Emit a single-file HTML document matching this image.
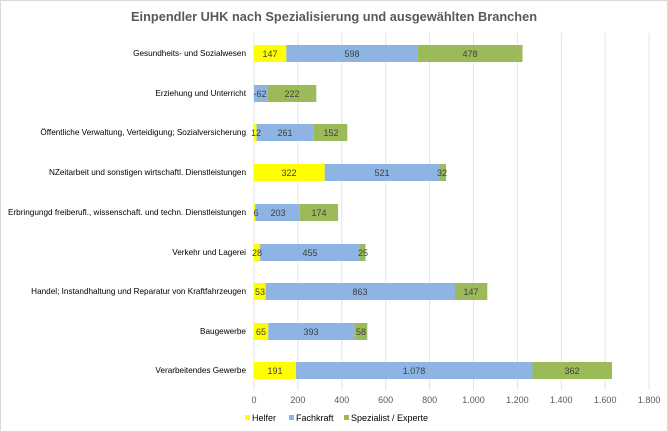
<!DOCTYPE html>
<html><head><meta charset="utf-8"><style>
html,body{margin:0;padding:0;background:#fff}
svg{display:block}
text{font-family:"Liberation Sans",Arial,sans-serif}
</style></head><body>
<svg width="668" height="432" xmlns="http://www.w3.org/2000/svg">
<rect x="0.5" y="0.5" width="667" height="431" fill="#fff" stroke="#d9d9d9"/>
<text x="334" y="21" text-anchor="middle" font-size="12.8" font-weight="bold" fill="#595959">Einpendler UHK nach Spezialisierung und ausgewählten Branchen</text>
<g stroke="#e3e3e3" stroke-width="1">
<line x1="254" y1="33" x2="254" y2="390"/>
<line x1="297.9" y1="33" x2="297.9" y2="390"/>
<line x1="341.8" y1="33" x2="341.8" y2="390"/>
<line x1="385.7" y1="33" x2="385.7" y2="390"/>
<line x1="429.6" y1="33" x2="429.6" y2="390"/>
<line x1="473.5" y1="33" x2="473.5" y2="390"/>
<line x1="517.4" y1="33" x2="517.4" y2="390"/>
<line x1="561.3" y1="33" x2="561.3" y2="390"/>
<line x1="605.2" y1="33" x2="605.2" y2="390"/>
<line x1="649.1" y1="33" x2="649.1" y2="390"/>
</g>
<g font-size="9" fill="#595959" text-anchor="middle">
<text x="254" y="403">0</text><text x="297.9" y="403">200</text><text x="341.8" y="403">400</text><text x="385.7" y="403">600</text><text x="429.6" y="403">800</text><text x="473.5" y="403">1.000</text><text x="517.4" y="403">1.200</text><text x="561.3" y="403">1.400</text><text x="605.2" y="403">1.600</text><text x="649.1" y="403">1.800</text>
</g>
<g font-size="8.2" fill="#000" text-anchor="end">
<text x="246" y="56">Gesundheits- und Sozialwesen</text>
<text x="246" y="96">Erziehung und Unterricht</text>
<text x="246" y="135">Öffentliche Verwaltung, Verteidigung; Sozialversicherung</text>
<text x="246" y="175">NZeitarbeit und sonstigen wirtschaftl. Dienstleistungen</text>
<text x="246" y="215">Erbringungd freiberufl., wissenschaft. und techn. Dienstleistungen</text>
<text x="246" y="255">Verkehr und Lagerei</text>
<text x="246" y="294">Handel; Instandhaltung und Reparatur von Kraftfahrzeugen</text>
<text x="246" y="334">Baugewerbe</text>
<text x="246" y="373">Verarbeitendes Gewerbe</text>
</g>
<g>
<rect x="254" y="45" width="32.3" height="17" fill="#ffff00"/><rect x="286.3" y="45" width="131.3" height="17" fill="#8eb4e3"/><rect x="417.6" y="45" width="104.9" height="17" fill="#9bbb59"/>
<rect x="254" y="85" width="13.6" height="17" fill="#8eb4e3"/><rect x="267.6" y="85" width="48.7" height="17" fill="#9bbb59"/>
<rect x="254" y="124" width="2.6" height="17" fill="#ffff00"/><rect x="256.6" y="124" width="57.3" height="17" fill="#8eb4e3"/><rect x="313.9" y="124" width="33.4" height="17" fill="#9bbb59"/>
<rect x="254" y="164" width="70.7" height="17" fill="#ffff00"/><rect x="324.7" y="164" width="114.4" height="17" fill="#8eb4e3"/><rect x="439.1" y="164" width="7" height="17" fill="#9bbb59"/>
<rect x="254" y="204" width="1.3" height="17" fill="#ffff00"/><rect x="255.3" y="204" width="44.6" height="17" fill="#8eb4e3"/><rect x="299.9" y="204" width="38.2" height="17" fill="#9bbb59"/>
<rect x="254" y="244" width="6.1" height="17" fill="#ffff00"/><rect x="260.1" y="244" width="99.9" height="17" fill="#8eb4e3"/><rect x="360" y="244" width="5.5" height="17" fill="#9bbb59"/>
<rect x="254" y="283" width="11.6" height="17" fill="#ffff00"/><rect x="265.6" y="283" width="189.4" height="17" fill="#8eb4e3"/><rect x="455" y="283" width="32.3" height="17" fill="#9bbb59"/>
<rect x="254" y="323" width="14.3" height="17" fill="#ffff00"/><rect x="268.3" y="323" width="86.3" height="17" fill="#8eb4e3"/><rect x="354.6" y="323" width="12.7" height="17" fill="#9bbb59"/>
<rect x="254" y="362" width="41.9" height="17" fill="#ffff00"/><rect x="295.9" y="362" width="236.6" height="17" fill="#8eb4e3"/><rect x="532.5" y="362" width="79.5" height="17" fill="#9bbb59"/>
</g>
<g font-size="9" fill="#404040" text-anchor="middle">
<text x="270" y="57">147</text><text x="352" y="57">598</text><text x="470" y="57">478</text>
<text x="260" y="97">-62</text><text x="292" y="97">222</text>
<text x="256" y="136">12</text><text x="285" y="136">261</text><text x="331" y="136">152</text>
<text x="289" y="176">322</text><text x="382" y="176">521</text><text x="442" y="176">32</text>
<text x="256" y="216">6</text><text x="278" y="216">203</text><text x="319" y="216">174</text>
<text x="257" y="256">28</text><text x="310" y="256">455</text><text x="363" y="256">25</text>
<text x="260" y="295">53</text><text x="360" y="295">863</text><text x="471" y="295">147</text>
<text x="261" y="335">65</text><text x="311" y="335">393</text><text x="361" y="335">58</text>
<text x="275" y="374">191</text><text x="414" y="374">1.078</text><text x="572" y="374">362</text>
</g>
<g font-size="9" fill="#000">
<rect x="245" y="415" width="5" height="5" fill="#ffff00"/><text x="252" y="421">Helfer</text>
<rect x="289" y="415" width="5" height="5" fill="#8eb4e3"/><text x="296" y="421">Fachkraft</text>
<rect x="344" y="415" width="5" height="5" fill="#9bbb59"/><text x="351" y="421">Spezialist / Experte</text>
</g>
</svg>
</body></html>
